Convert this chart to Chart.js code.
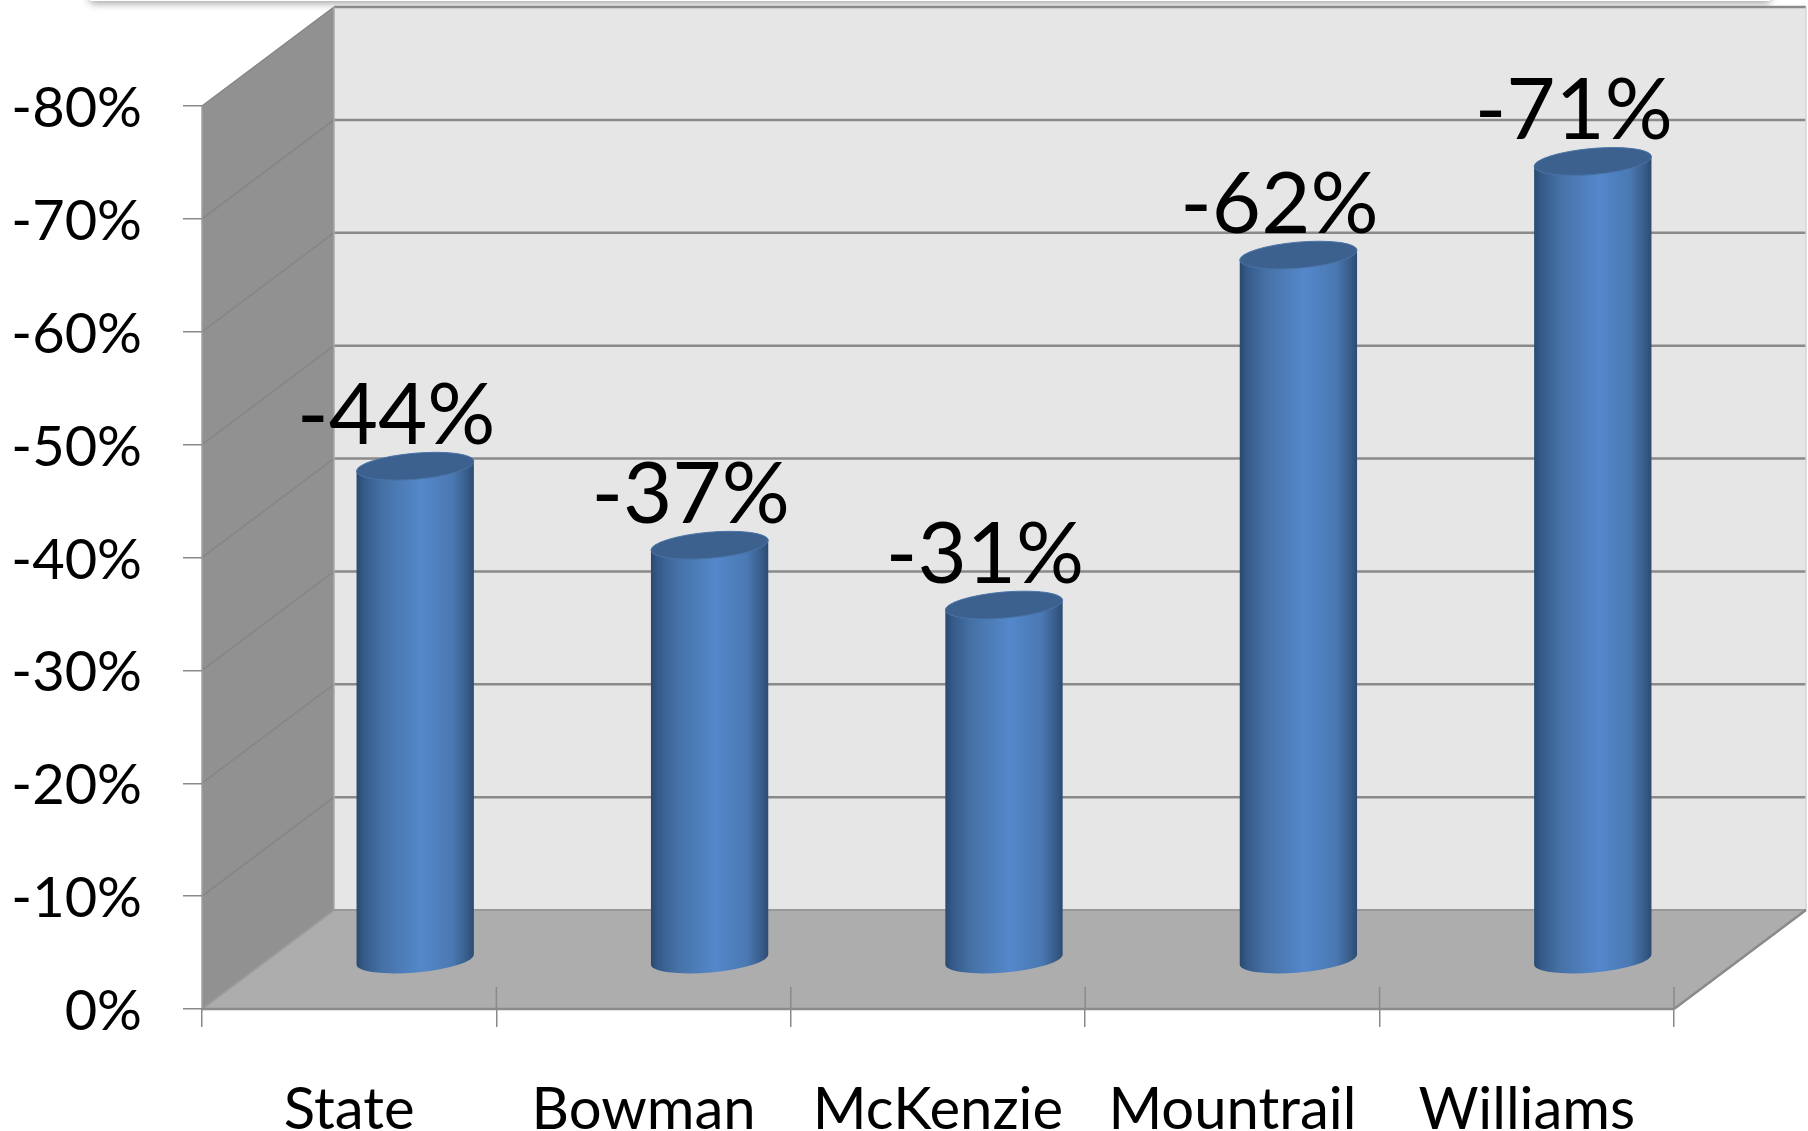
<!DOCTYPE html>
<html>
<head>
<meta charset="utf-8">
<style>
  html, body { margin: 0; padding: 0; background: #fff; }
  canvas { display: block; }
</style>
<script src="https://cdn.jsdelivr.net/npm/chart.js@4/dist/chart.umd.js"></script>
</head>
<body>
<canvas id="chart" width="1808" height="1131"></canvas>
<script>
const categories = ['State', 'Bowman', 'McKenzie', 'Mountrail', 'Williams']
const seriesValues = [-43.7, -36.7, -31.4, -62.4, -70.7]
const yTickValues = [0, -10, -20, -30, -40, -50, -60, -70, -80]

const FONT = 'Lato, Carlito, sans-serif'
const DEPTH_X = 132
const DEPTH_Y = 99
const GRID = '#8a8a8a'

function poly(ctx, pts, fill) {
  ctx.beginPath()
  pts.forEach((p, i) => (i ? ctx.lineTo(p[0], p[1]) : ctx.moveTo(p[0], p[1])))
  ctx.closePath()
  ctx.fillStyle = fill
  ctx.fill()
}

function line(ctx, x1, y1, x2, y2, color, width) {
  ctx.beginPath()
  ctx.moveTo(x1, y1)
  ctx.lineTo(x2, y2)
  ctx.strokeStyle = color
  ctx.lineWidth = width
  ctx.stroke()
}

// the room behind the bars: back wall, side wall, floor, gridlines
const roomPlugin = {
  id: 'room',
  beforeDraw(chart) {
    const { ctx, chartArea: a, scales } = chart
    const dx = DEPTH_X
    const dy = DEPTH_Y
    ctx.save()

    // soft shadow of something sitting above the picture
    ctx.save()
    ctx.shadowColor = 'rgba(0,0,0,0.4)'
    ctx.shadowBlur = 8
    ctx.shadowOffsetY = 2
    ctx.fillStyle = '#fff'
    ctx.fillRect(90, -20, 1680, 21)
    ctx.restore()

    poly(ctx, [[a.left + dx, a.top - dy], [a.right + dx, a.top - dy], [a.right + dx, a.bottom - dy], [a.left + dx, a.bottom - dy]], '#e6e6e6')
    poly(ctx, [[a.left, a.top], [a.left + dx, a.top - dy], [a.left + dx, a.bottom - dy], [a.left, a.bottom]], '#919191')
    poly(ctx, [[a.left, a.bottom], [a.left + dx, a.bottom - dy], [a.right + dx, a.bottom - dy], [a.right, a.bottom]], '#adadad')

    yTickValues.forEach(v => {
      const y = scales.y.getPixelForValue(v)
      if (v !== 0) {
        line(ctx, a.left, y, a.left + dx, y - dy, '#858585', 1.5)
        line(ctx, a.left + dx, y - dy, a.right + dx, y - dy, GRID, 2.5)
      }
    })

    line(ctx, a.left, a.top, a.left, a.bottom, '#a0a0a0', 1.5)
    line(ctx, a.left + dx, a.top - dy, a.left + dx, a.bottom - dy, '#a8a8a8', 1.5)
    line(ctx, a.right + dx, a.top - dy, a.right + dx, a.bottom - dy, '#d4d4d4', 1.5)
    line(ctx, a.left, a.bottom, a.left + dx, a.bottom - dy, '#9a9a9a', 2)
    line(ctx, a.left + dx, a.bottom - dy, a.right + dx, a.bottom - dy, '#999', 2)
    line(ctx, a.right, a.bottom, a.right + dx, a.bottom - dy, GRID, 2.5)
    line(ctx, a.left, a.bottom, a.right, a.bottom, GRID, 2.5)

    // category dividers poke up into the floor
    const step = (a.right - a.left) / categories.length
    for (let i = 1; i <= categories.length; i++) {
      line(ctx, a.left + step * i, a.bottom, a.left + step * i, a.bottom - 22, GRID, 1.5)
    }
    ctx.restore()
  }
}

// Chart.js has no 3d bars, so each bar element is painted as a cylinder
const cylinderPlugin = {
  id: 'cylinder',
  afterDatasetsDraw(chart) {
    const { ctx } = chart
    const meta = chart.getDatasetMeta(0)
    const zeroY = chart.scales.y.getPixelForValue(0)
    const lift = DEPTH_Y / 2
    const tilt = -5 * Math.PI / 180
    const ry = 13

    meta.data.forEach((bar, i) => {
      const cx = bar.x + DEPTH_X / 2
      const rx = bar.width / 2
      const topY = bar.y - lift
      const baseY = zeroY - lift
      const ex = rx * Math.cos(tilt)
      const ey = rx * Math.sin(tilt)

      const grad = ctx.createLinearGradient(cx - rx, 0, cx + rx, 0)
      grad.addColorStop(0, '#2a486d')
      grad.addColorStop(0.06, '#345a88')
      grad.addColorStop(0.22, '#4671a6')
      grad.addColorStop(0.55, '#5488cb')
      grad.addColorStop(0.82, '#4a78b2')
      grad.addColorStop(0.95, '#365a85')
      grad.addColorStop(1, '#2b4a70')

      ctx.save()
      ctx.beginPath()
      ctx.moveTo(cx - ex, topY - ey)
      ctx.lineTo(cx - ex, baseY - ey)
      ctx.ellipse(cx, baseY, rx, ry, tilt, Math.PI, 0, true)
      ctx.lineTo(cx + ex, topY + ey)
      ctx.closePath()
      ctx.fillStyle = grad
      ctx.fill()

      ctx.beginPath()
      ctx.ellipse(cx, topY, rx, ry, tilt, 0, Math.PI * 2)
      ctx.fillStyle = '#3c618f'
      ctx.fill()
      ctx.strokeStyle = '#4a74a8'
      ctx.lineWidth = 1
      ctx.stroke()

      // value label, sits a little left of the cylinder
      ctx.font = '85px ' + FONT
      ctx.fillStyle = '#000'
      ctx.textAlign = 'center'
      ctx.textBaseline = 'alphabetic'
      ctx.fillText(Math.round(seriesValues[i]) + '%', bar.x + 47, bar.y - 72)
      ctx.restore()
    })
  }
}

new Chart(document.getElementById('chart'), {
  type: 'bar',
  data: {
    labels: categories,
    datasets: [{
      data: seriesValues,
      backgroundColor: 'rgba(0,0,0,0)',
      barPercentage: 0.4,
      categoryPercentage: 1
    }]
  },
  options: {
    responsive: false,
    animation: false,
    devicePixelRatio: 1,
    layout: { padding: { top: 106, right: 134, left: 0, bottom: 0 } },
    plugins: {
      legend: { display: false },
      tooltip: { enabled: false },
      title: { display: false }
    },
    scales: {
      x: {
        afterFit: s => { s.height = 122 },
        border: { display: false },
        grid: { drawOnChartArea: false, color: GRID, lineWidth: 1.5, tickLength: 18 },
        ticks: { color: '#000', font: { family: FONT, size: 58 }, padding: 48, maxRotation: 0, autoSkip: false }
      },
      y: {
        reverse: true,
        min: -80,
        max: 0,
        afterFit: s => { s.width = 202 },
        border: { display: false },
        grid: { drawOnChartArea: false, color: GRID, lineWidth: 1.5, tickLength: 19 },
        ticks: {
          stepSize: 10,
          color: '#000',
          padding: 41,
          labelOffset: 3,
          font: { family: FONT, size: 56 },
          callback: v => v + '%'
        }
      }
    }
  },
  plugins: [roomPlugin, cylinderPlugin]
})
</script>
</body>
</html>
